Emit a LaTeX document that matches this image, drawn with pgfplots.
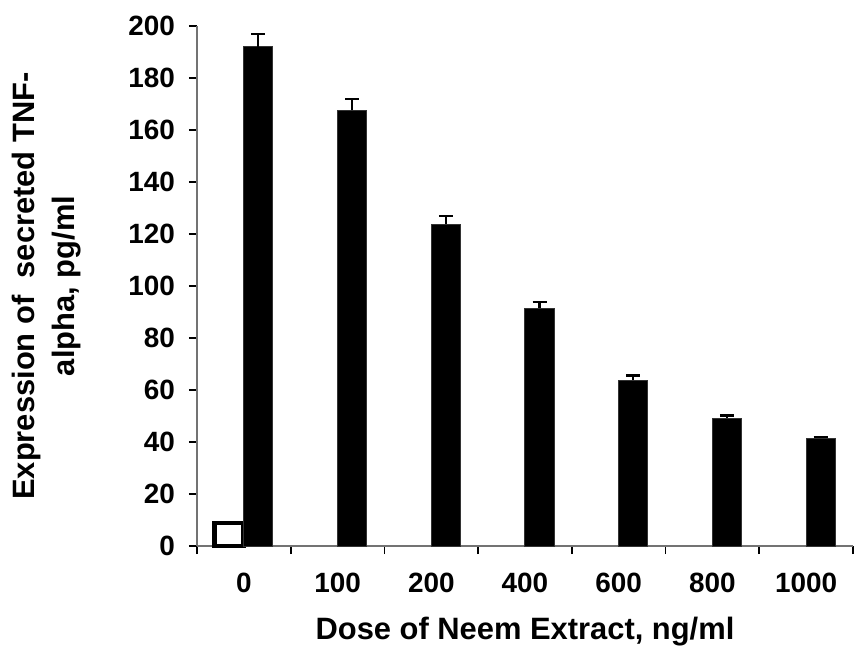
\documentclass[border=0pt]{standalone}
\usepackage{fontspec}
\setmainfont{Liberation Sans}
\usepackage{pgfplots}
\pgfplotsset{compat=1.18}
\begin{document}
\begin{tikzpicture}
\useasboundingbox (-98.5bp,-53bp) rectangle (328.5bp,273bp);
\begin{axis}[
  scale only axis,
  width=328bp, height=260bp,
  clip=false,
  axis x line*=bottom, axis y line*=left,
  axis line style={draw=gray!90!black, line width=1bp},
  xmin=-0.5, xmax=6.5,
  ymin=0, ymax=200,
  ytick distance=20,
  xtick={-0.5,0.5,1.5,...,6.5},
  xticklabels={},
  extra x ticks={0,1,2,3,4,5,6},
  extra x tick labels={0,100,200,400,600,800,1000},
  extra x tick style={major tick length=0pt},
  tick align=outside,
  major tick length=4bp,
  tick style={black, line width=0.8bp},
  /pgf/number format/assume math mode=true,
  tick label style={font=\bfseries\fontsize{14}{15}\selectfont},
  xticklabel style={yshift=-10bp},
  yticklabel style={xshift=-3.5bp},
  xlabel={Dose of Neem Extract, ng/ml},
  ylabel={Expression of\ \ secreted TNF-\\alpha, pg/ml},
  label style={font=\bfseries\fontsize{15.5}{20}\selectfont},
  ylabel style={align=center, yshift=17bp},
  xlabel style={yshift=-1.5bp},
  ybar, bar width=0.31,
]
% control (white) bar
\addplot[ybar, bar shift=-0.16, fill=white, draw=black, line width=2.2bp]
  coordinates {(0,8.8)};
% treated (black) bars with SE
\addplot[ybar, bar shift=0.155, fill=black, draw=black!80, line width=0.5bp,
  error bars/.cd, y dir=plus, y explicit,
  error bar style={line width=1.1bp, black},
  error mark options={rotate=90, line width=1.1bp, mark size=3.5bp, black}]
  table[x=x, y=y, y error=e] {
x y e
0 192.0 5.0
1 167.5 4.5
2 123.8 3.2
3 91.5 2.4
4 63.8 1.8
5 49.2 1.0
6 41.5 0.5
};
\end{axis}
\end{tikzpicture}
\end{document}
